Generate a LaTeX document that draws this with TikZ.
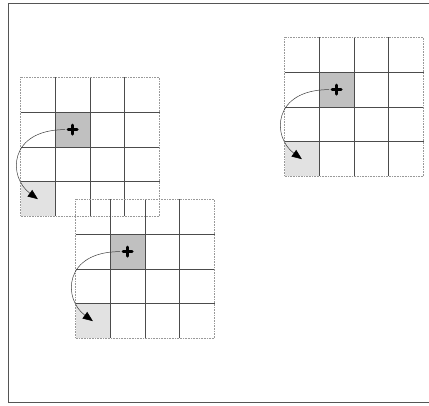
\documentclass[tikz,border=0pt]{standalone}
\usepackage{tikz}
\usetikzlibrary{arrows.meta}
\definecolor{srcgray}{RGB}{192,192,192}
\definecolor{dstgray}{RGB}{226,226,226}
\definecolor{framegray}{RGB}{85,85,85}

\begin{document}
\begin{tikzpicture}[x=1pt,y=-1pt,
  cell/.style={draw=none,minimum size=34.75pt,inner sep=0pt},
  gridline/.style={black!70,line width=0.6pt},
  gridedge/.style={gray!80,line width=0.6pt,densely dotted},
  plusmark/.style={line width=2.8pt,line cap=round},
  flow/.style={black!75,line width=0.5pt,-{Triangle[length=10pt,width=8pt,color=black,fill=black]}}]
\useasboundingbox (0,0) rectangle (429,406);
\draw[framegray,line width=0.8pt] (8,3) rectangle (440,402);
\foreach \g/\x/\y in {A/20.5/77.5,B/75.5/199.5,C/284.5/37.5}{
  \node[cell,fill=srcgray] (\g-src) at ({\x+52.125},{\y+52.125}) {};
  \node[cell,fill=dstgray] (\g-dst) at ({\x+17.375},{\y+121.625}) {};
  \foreach \i in {1,2,3}{
    \draw[gridline] ({\x+34.75*\i},\y) -- ++(0,139);
    \draw[gridline] (\x,{\y+34.75*\i}) -- ++(139,0);
  }
  \draw[gridedge] (\x,\y) rectangle ++(139,139);
  \draw[plusmark] ([xshift=-4.5pt]\g-src.center) -- ([xshift=4.5pt]\g-src.center);
  \draw[plusmark] ([yshift=-4.5pt]\g-src.center) -- ([yshift=4.5pt]\g-src.center);
  \draw[flow] ([xshift=-7.5pt]\g-src.center) .. controls +(-57,0) and +(-30,-22) .. (\g-dst.center);
}
\end{tikzpicture}
\end{document}
